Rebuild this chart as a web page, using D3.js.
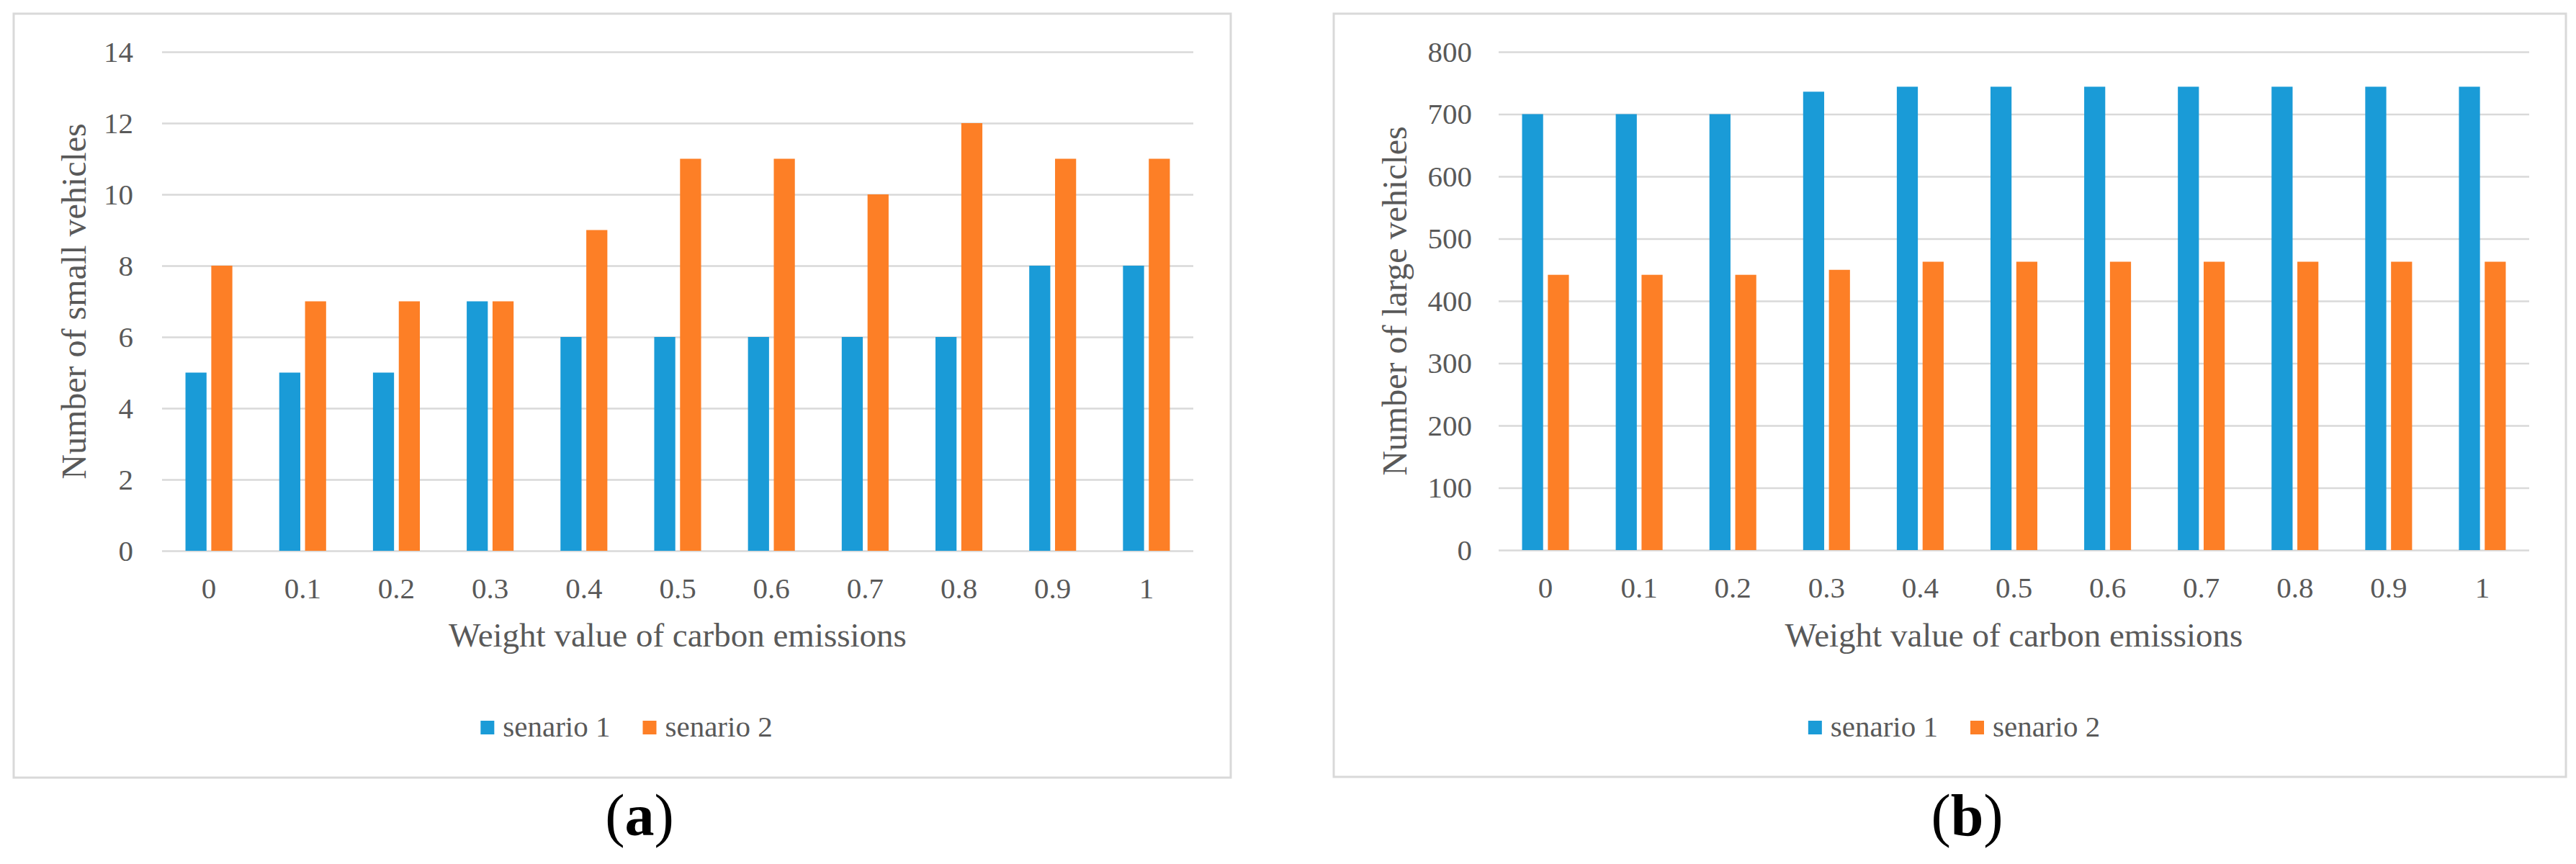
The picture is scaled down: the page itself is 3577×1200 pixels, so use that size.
<!DOCTYPE html>
<html>
<head>
<meta charset="utf-8">
<script src="https://cdn.jsdelivr.net/npm/d3@7/dist/d3.min.js"></script>
<style>
    body { margin: 0; background: #ffffff; }
    svg { display: block; }
</style>
</head>
<body>
<div id="myDiv"><svg width="3577" height="1200"></svg></div>
<script>
const categories = ["0", "0.1", "0.2", "0.3", "0.4", "0.5", "0.6", "0.7", "0.8", "0.9", "1"];
const seriesNames = ["senario 1", "senario 2"];

const smallSenario1 = [5, 5, 5, 7, 6, 6, 6, 6, 6, 8, 8];
const smallSenario2 = [8, 7, 7, 7, 9, 11, 11, 10, 12, 11, 11];
const smallTicks = [0, 2, 4, 6, 8, 10, 12, 14];

const largeSenario1 = [700, 700, 700, 736, 744, 744, 744, 744, 744, 744, 744];
const largeSenario2 = [442, 442, 442, 450, 463, 463, 463, 463, 463, 463, 463];
const largeTicks = [0, 100, 200, 300, 400, 500, 600, 700, 800];

const colors = ["#1a9bd7", "#fd7f26"];
const textColor = "#595959";
const gridColor = "#d9d9d9";
const font = "'Liberation Serif', 'Times New Roman', serif";

function drawPanel(svg, p) {
    let g = svg.append("g");

    // outer chart frame
    g.append("rect")
        .attr("x", p.box[0])
        .attr("y", p.box[1])
        .attr("width", p.box[2] - p.box[0])
        .attr("height", p.box[3] - p.box[1])
        .attr("fill", "#ffffff")
        .attr("stroke", gridColor)
        .attr("stroke-width", 3);

    let x = d3.scaleBand()
        .domain(categories)
        .range([p.plot[0], p.plot[1]])
        .paddingInner(0.5)
        .paddingOuter(0.25);

    let xSub = d3.scaleBand()
        .domain([0, 1])
        .range([0, x.bandwidth()])
        .paddingInner(0.184);

    let y = d3.scaleLinear()
        .domain([0, p.ticks[p.ticks.length - 1]])
        .range([p.plot[3], p.plot[2]]);

    // gridlines
    g.append("g")
        .attr("transform", "translate(" + p.plot[0] + ",0)")
        .call(d3.axisLeft(y).tickValues(p.ticks).tickSize(-(p.plot[1] - p.plot[0])).tickFormat(""))
        .call(a => a.select(".domain").remove())
        .selectAll("line")
        .attr("stroke", gridColor)
        .attr("stroke-width", 2.5);

    // y tick labels
    g.append("g")
        .attr("transform", "translate(" + p.plot[0] + ",0)")
        .call(d3.axisLeft(y).tickValues(p.ticks).tickSize(0).tickPadding(p.labelPad))
        .call(a => a.select(".domain").remove())
        .selectAll("text")
        .attr("fill", textColor)
        .style("font-family", font)
        .style("font-size", "41px");

    // x tick labels
    g.append("g")
        .attr("transform", "translate(0," + p.plot[3] + ")")
        .call(d3.axisBottom(x).tickSize(0).tickPadding(37))
        .call(a => a.select(".domain").remove())
        .selectAll("text")
        .attr("fill", textColor)
        .style("font-family", font)
        .style("font-size", "41px");

    // bars
    let rows = categories.map(function(c, i) {
        return {cat: c, values: [p.s1[i], p.s2[i]]};
    });

    g.append("g")
        .selectAll("g")
        .data(rows)
        .enter()
        .append("g")
        .attr("transform", function(d) { return "translate(" + x(d.cat) + ",0)"; })
        .selectAll("rect")
        .data(function(d) { return d.values; })
        .enter()
        .append("rect")
        .attr("x", function(d, i) { return xSub(i); })
        .attr("width", xSub.bandwidth())
        .attr("y", function(d) { return y(d); })
        .attr("height", function(d) { return y(0) - y(d); })
        .attr("fill", function(d, i) { return colors[i]; });

    // axis titles
    g.append("text")
        .attr("x", (p.plot[0] + p.plot[1]) / 2)
        .attr("y", 898)
        .attr("text-anchor", "middle")
        .attr("fill", textColor)
        .style("font-family", font)
        .style("font-size", "47px")
        .text("Weight value of carbon emissions");

    g.append("text")
        .attr("transform", "translate(" + p.yTitleX + "," + (p.plot[2] + p.plot[3]) / 2 + ") rotate(-90)")
        .attr("text-anchor", "middle")
        .attr("fill", textColor)
        .style("font-family", font)
        .style("font-size", "48px")
        .text(p.yTitle);

    // legend
    let legend = g.append("g");
    let cursor = 0;
    seriesNames.forEach(function(name, i) {
        legend.append("rect")
            .attr("x", cursor)
            .attr("y", 1001)
            .attr("width", 19)
            .attr("height", 19)
            .attr("fill", colors[i]);
        let t = legend.append("text")
            .attr("x", cursor + 31)
            .attr("y", 1023)
            .attr("fill", textColor)
            .style("font-family", font)
            .style("font-size", "41px")
            .text(name);
        cursor = cursor + 31 + t.node().getComputedTextLength() + 45;
    });
    let legendWidth = cursor - 45;
    let boxMid = (p.box[0] + p.box[2]) / 2;
    legend.attr("transform", "translate(" + (boxMid + 6 - legendWidth / 2) + ",0)");

    // panel label
    let label = svg.append("text")
        .attr("x", boxMid + 24)
        .attr("y", 1160)
        .attr("text-anchor", "middle")
        .attr("fill", "#000000")
        .style("font-family", font)
        .style("font-size", "82px");
    label.append("tspan").text("(");
    label.append("tspan").style("font-weight", "bold").text(p.label);
    label.append("tspan").text(")");
}

let svg = d3.select("#myDiv").select("svg");

drawPanel(svg, {
    box: [19, 19, 1709, 1080],
    plot: [225, 1657, 72, 765],
    s1: smallSenario1,
    s2: smallSenario2,
    ticks: smallTicks,
    labelPad: 40,
    yTitle: "Number of small vehicles",
    yTitleX: 119,
    label: "a"
});

drawPanel(svg, {
    box: [1852, 19, 3563, 1079],
    plot: [2081, 3512, 72, 764],
    s1: largeSenario1,
    s2: largeSenario2,
    ticks: largeTicks,
    labelPad: 37,
    yTitle: "Number of large vehicles",
    yTitleX: 1953,
    label: "b"
});
</script>
</body>
</html>
